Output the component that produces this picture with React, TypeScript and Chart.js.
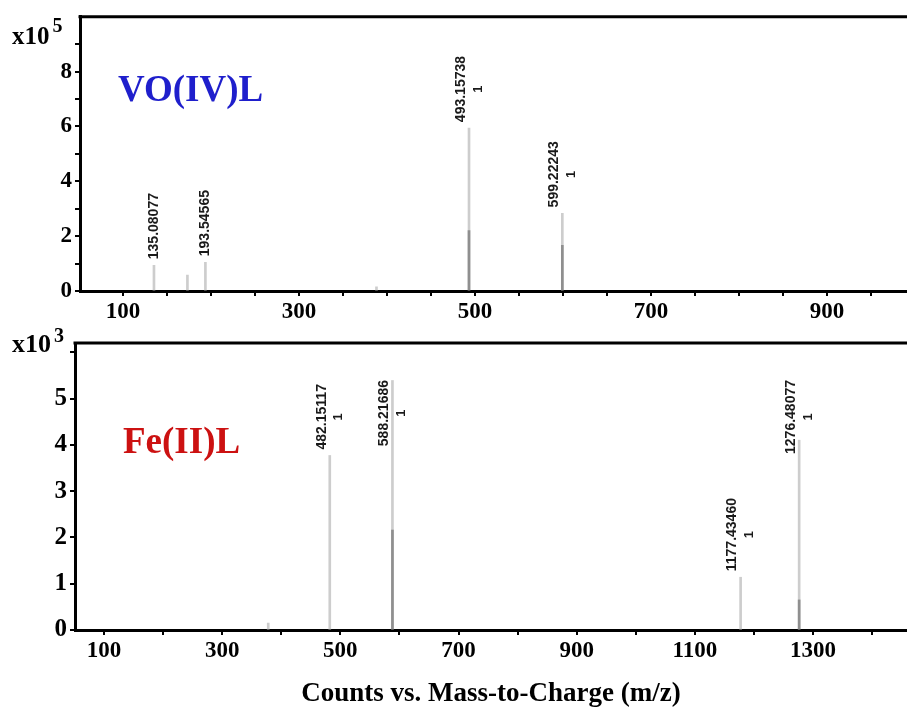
import React, { useEffect, useRef } from 'react';
import { Chart, registerables } from 'chart.js';

Chart.register(...registerables);

// ---------- VO(IV)L spectrum (counts x10^5) ----------
const voMz = [135.08077, 173.1, 193.54565, 388.0, 493.15738, 599.22243];
const voCounts = [0.94, 0.58, 1.05, 0.15, 5.94, 2.83];
const voCore = [0, 0, 0, 0, 2.2, 1.67];
const voPeakLabels = ['135.08077', '', '193.54565', '', '493.15738', '599.22243'];
const voCharges = ['', '', '', '', '1', '1'];
const voXTicks = [100, 150, 200, 250, 300, 350, 400, 450, 500, 550, 600, 650, 700, 750, 800, 850, 900, 950];
const voXLabels = [100, 300, 500, 700, 900];
const voYTicks = [0, 1, 2, 3, 4, 5, 6, 7, 8, 9];
const voYLabels = [0, 2, 4, 6, 8];

// ---------- Fe(II)L spectrum (counts x10^3) ----------
const feMz = [378.0, 482.15117, 588.21686, 1177.4346, 1276.48077];
const feCounts = [0.15, 3.77, 5.39, 1.14, 4.1];
const feCore = [0, 0, 2.16, 0, 0.65];
const fePeakLabels = ['', '482.15117', '588.21686', '1177.43460', '1276.48077'];
const feCharges = ['', '1', '1', '1', '1'];
const feXTicks = [100, 200, 300, 400, 500, 600, 700, 800, 900, 1000, 1100, 1200, 1300, 1400];
const feXLabels = [100, 300, 500, 700, 900, 1100, 1300];
const feYTicks = [0, 1, 2, 3, 4, 5, 6];
const feYLabels = [0, 1, 2, 3, 4, 5];

const SERIF = '"Liberation Serif", "Times New Roman", serif';
const SANS = '"Liberation Sans", Arial, sans-serif';

const annotPlugin = {
  id: 'spectrumAnnot',
  afterDraw(chart: any, _args: any, opts: any) {
    const { ctx, chartArea } = chart;
    const xs = chart.scales.x;
    const ys = chart.scales.y;
    ctx.save();
    // top frame line
    ctx.strokeStyle = '#000';
    ctx.lineWidth = 3;
    ctx.beginPath();
    ctx.moveTo(chartArea.left - 1.5, chartArea.top);
    ctx.lineTo(chartArea.right, chartArea.top);
    ctx.stroke();

    // peak labels
    ctx.fillStyle = '#1a1a1a';
    opts.mz.forEach((m: number, i: number) => {
      const text = opts.labels[i];
      if (!text) return;
      const px = xs.getPixelForValue(m);
      const py = ys.getPixelForValue(opts.counts[i]);
      ctx.font = `bold 14px ${SANS}`;
      const w = ctx.measureText(text).width;
      let bottom = py - 6;
      if (bottom - w < chartArea.top + 37) bottom = chartArea.top + 37 + w;
      const cy = bottom - w / 2;
      const charge = opts.charges[i];
      ctx.save();
      ctx.translate(px, cy);
      ctx.rotate(-Math.PI / 2);
      ctx.textAlign = 'center';
      ctx.textBaseline = 'middle';
      ctx.fillText(text, 0, charge ? -8 : 0);
      if (charge) {
        ctx.font = `bold 13px ${SANS}`;
        ctx.fillText(charge, 0, 9);
      }
      ctx.restore();
    });

    // compound name
    ctx.font = `bold ${opts.nameSize}px ${SERIF}`;
    ctx.fillStyle = opts.nameColor;
    ctx.textAlign = 'left';
    ctx.textBaseline = 'alphabetic';
    ctx.fillText(opts.name, chartArea.left + opts.nameDx, chartArea.top + opts.nameDy);

    // exponent marker
    ctx.fillStyle = '#000';
    ctx.font = `bold ${opts.expSize}px ${SERIF}`;
    ctx.fillText('x10', opts.expX, opts.expY);
    const w10 = ctx.measureText('x10').width;
    ctx.font = `bold 20px ${SERIF}`;
    ctx.fillText(opts.exponent, opts.expX + w10 + 3, opts.expY - opts.supRise);
    ctx.restore();
  },
};

function makeConfig(p: any): any {
  return {
    type: 'bar',
    data: {
      datasets: [
        {
          data: p.mz.map((m: number, i: number) => ({ x: m, y: p.core[i] })),
          backgroundColor: '#8f8f8f',
          barThickness: 2,
          grouped: false,
          borderWidth: 0,
        },
        {
          data: p.mz.map((m: number, i: number) => ({ x: m, y: p.counts[i] })),
          backgroundColor: '#cdcdcd',
          barThickness: 2,
          grouped: false,
          borderWidth: 0,
        },
      ],
    },
    options: {
      responsive: false,
      animation: false,
      devicePixelRatio: 1,
      events: [],
      layout: { padding: { top: p.padTop, left: 0, right: 0, bottom: 0 } },
      plugins: {
        legend: { display: false },
        tooltip: { enabled: false },
        spectrumAnnot: {
          mz: p.mz,
          counts: p.counts,
          labels: p.labels,
          charges: p.charges,
          name: p.name,
          nameColor: p.nameColor,
          nameSize: p.nameSize,
          nameDx: p.nameDx,
          nameDy: p.nameDy,
          exponent: p.exponent,
          expX: p.expX,
          expY: p.expY,
          expSize: p.expSize,
          supRise: p.supRise,
        },
      },
      scales: {
        x: {
          type: 'linear',
          min: p.xMin,
          max: p.xMax,
          offset: false,
          afterFit: (s: any) => {
            s.height = p.xHeight;
          },
          afterBuildTicks: (s: any) => {
            s.ticks = p.xTicks.map((v: number) => ({ value: v }));
          },
          ticks: {
            autoSkip: false,
            maxRotation: 0,
            minRotation: 0,
            padding: 2,
            color: '#000',
            font: { family: SERIF, size: 23, weight: 'bold' },
            callback: (v: number) => (p.xLabels.includes(v) ? String(v) : ''),
          },
          grid: {
            offset: false,
            drawOnChartArea: false,
            drawTicks: true,
            tickLength: 5,
            color: '#000',
            lineWidth: 2,
          },
          border: { display: true, color: '#000', width: 3 },
          title: p.xTitle
            ? {
                display: true,
                text: p.xTitle,
                color: '#000',
                padding: 0,
                font: { family: SERIF, size: 27, weight: 'bold', lineHeight: 1.1 },
              }
            : { display: false },
        },
        y: {
          type: 'linear',
          min: 0,
          max: p.yMax,
          afterFit: (s: any) => {
            s.width = p.yWidth;
          },
          afterBuildTicks: (s: any) => {
            s.ticks = p.yTicks.map((v: number) => ({ value: v }));
          },
          ticks: {
            autoSkip: false,
            padding: 3,
            color: '#000',
            font: { family: SERIF, size: p.yFont, weight: 'bold' },
            callback: (v: number) => (p.yLabels.includes(v) ? String(v) : ''),
          },
          grid: {
            drawOnChartArea: false,
            drawTicks: true,
            tickLength: 5,
            color: '#000',
            lineWidth: 2,
          },
          border: { display: true, color: '#000', width: 3 },
        },
      },
    },
    plugins: [annotPlugin],
  };
}

export default function App() {
  const topRef = useRef<HTMLCanvasElement | null>(null);
  const botRef = useRef<HTMLCanvasElement | null>(null);

  useEffect(() => {
    const top = new Chart(
      topRef.current as HTMLCanvasElement,
      makeConfig({
        mz: voMz,
        counts: voCounts,
        core: voCore,
        labels: voPeakLabels,
        charges: voCharges,
        xTicks: voXTicks,
        xLabels: voXLabels,
        yTicks: voYTicks,
        yLabels: voYLabels,
        xMin: 51,
        xMax: 991,
        yMax: 10,
        padTop: 15,
        xHeight: 39,
        yWidth: 80,
        yFont: 23,
        name: 'VO(IV)L',
        nameColor: '#1f1fcc',
        nameSize: 37,
        nameDx: 38,
        nameDy: 84,
        exponent: '5',
        expX: 12,
        expY: 44,
        expSize: 25,
        supRise: 12,
        xTitle: '',
      })
    );
    const bot = new Chart(
      botRef.current as HTMLCanvasElement,
      makeConfig({
        mz: feMz,
        counts: feCounts,
        core: feCore,
        labels: fePeakLabels,
        charges: feCharges,
        xTicks: feXTicks,
        xLabels: feXLabels,
        yTicks: feYTicks,
        yLabels: feYLabels,
        xMin: 51,
        xMax: 1459,
        yMax: 6.2,
        padTop: 21,
        xHeight: 79,
        yWidth: 75,
        yFont: 25,
        name: 'Fe(II)L',
        nameColor: '#cc1111',
        nameSize: 37,
        nameDx: 48,
        nameDy: 110,
        exponent: '3',
        expX: 12,
        expY: 30,
        expSize: 26,
        supRise: 10,
        xTitle: 'Counts vs. Mass-to-Charge (m/z)',
      })
    );
    return () => {
      top.destroy();
      bot.destroy();
    };
  }, []);

  return (
    <div style={{ position: 'absolute', left: 0, top: 0, width: 907, height: 709, background: '#fff', overflow: 'hidden' }}>
      <canvas ref={topRef} width={907} height={330} style={{ position: 'absolute', left: 0, top: 0, display: 'block' }} />
      <canvas ref={botRef} width={907} height={387} style={{ position: 'absolute', left: 0, top: 322, display: 'block' }} />
    </div>
  );
}
